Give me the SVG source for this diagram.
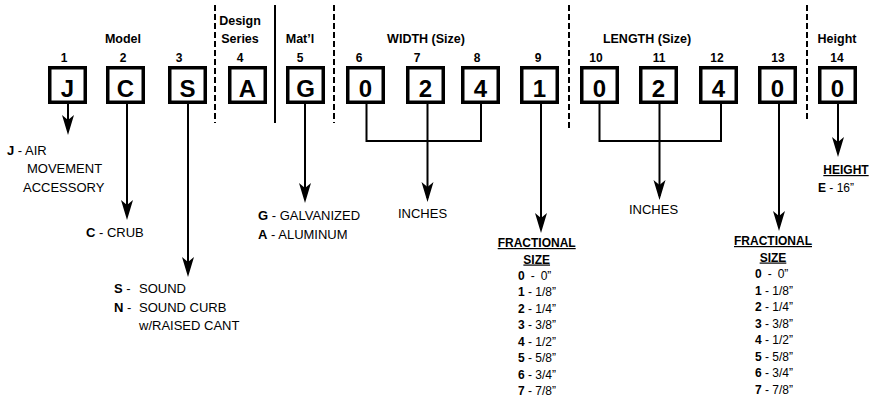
<svg xmlns="http://www.w3.org/2000/svg" width="872" height="398" viewBox="0 0 872 398">
<defs>
<style>
text{font-family:"Liberation Sans",Arial,sans-serif;fill:#000}
.hd{font-size:12.5px;font-weight:bold;text-anchor:middle}
.num{font-size:12px;font-weight:bold;text-anchor:middle}
.bx{fill:#fff;stroke:#000;stroke-width:3.5}
.ch{font-size:24px;font-weight:bold;text-anchor:middle}
.t{font-size:13px}
.s{font-size:12px}
.b{font-weight:bold}
.ln{fill:none;stroke:#000;stroke-width:2}
.dash{fill:none;stroke:#000;stroke-width:2;stroke-dasharray:6 3}
.ar{fill:none;stroke:#000;stroke-width:2;marker-end:url(#ah)}
</style>
<marker id="ah" markerUnits="userSpaceOnUse" markerWidth="24" markerHeight="16" viewBox="-18 -8 24 16" refX="0" refY="0" orient="auto">
<path d="M4,0 L-16,-6 L-11,0 L-16,6 Z" fill="#000"/>
</marker>
</defs>

<g id="headers">
<text class="hd" x="123" y="43">Model</text>
<text class="hd" x="240" y="25">Design</text>
<text class="hd" x="240" y="43">Series</text>
<text class="hd" x="300" y="43">Mat’l</text>
<text class="hd" x="426" y="43">WIDTH (Size)</text>
<text class="hd" x="647" y="43">LENGTH (Size)</text>
<text class="hd" x="837" y="43">Height</text>
</g>

<g id="dividers">
<line class="dash" x1="215" y1="5" x2="215" y2="123"/>
<line class="ln" x1="275" y1="5" x2="275" y2="123"/>
<line class="dash" x1="334" y1="5" x2="334" y2="123"/>
<line class="dash" x1="569" y1="5" x2="569" y2="128"/>
<line class="dash" x1="807" y1="5" x2="807" y2="122"/>
</g>

<g id="n1"><text class="num" x="64" y="62">1</text><rect class="bx" x="49.75" y="67.75" width="35.5" height="34.5"/><text class="ch" x="67.5" y="96.5">J</text></g>
<g id="n2"><text class="num" x="123" y="62">2</text><rect class="bx" x="107.75" y="67.75" width="35.5" height="34.5"/><text class="ch" x="125.5" y="96.5">C</text></g>
<g id="n3"><text class="num" x="179" y="62">3</text><rect class="bx" x="169.75" y="67.75" width="35.5" height="34.5"/><text class="ch" x="187.5" y="96.5">S</text></g>
<g id="n4"><text class="num" x="240" y="62">4</text><rect class="bx" x="229.75" y="67.75" width="35.5" height="34.5"/><text class="ch" x="247.5" y="96.5">A</text></g>
<g id="n5"><text class="num" x="300" y="62">5</text><rect class="bx" x="287.75" y="67.75" width="35.5" height="34.5"/><text class="ch" x="305.5" y="96.5">G</text></g>
<g id="n6"><text class="num" x="359" y="62">6</text><rect class="bx" x="347.75" y="67.75" width="35.5" height="34.5"/><text class="ch" x="365.5" y="96.5">0</text></g>
<g id="n7"><text class="num" x="417" y="62">7</text><rect class="bx" x="407.75" y="67.75" width="35.5" height="34.5"/><text class="ch" x="425.5" y="96.5">2</text></g>
<g id="n8"><text class="num" x="477" y="62">8</text><rect class="bx" x="462.75" y="67.75" width="35.5" height="34.5"/><text class="ch" x="480.5" y="96.5">4</text></g>
<g id="n9"><text class="num" x="538" y="62">9</text><rect class="bx" x="521.75" y="67.75" width="35.5" height="34.5"/><text class="ch" x="539.5" y="96.5">1</text></g>
<g id="n10"><text class="num" x="596" y="62">10</text><rect class="bx" x="581.75" y="67.75" width="35.5" height="34.5"/><text class="ch" x="599.5" y="96.5">0</text></g>
<g id="n11"><text class="num" x="659" y="62">11</text><rect class="bx" x="640.75" y="67.75" width="35.5" height="34.5"/><text class="ch" x="658.5" y="96.5">2</text></g>
<g id="n12"><text class="num" x="717" y="62">12</text><rect class="bx" x="700.75" y="67.75" width="35.5" height="34.5"/><text class="ch" x="718.5" y="96.5">4</text></g>
<g id="n13"><text class="num" x="778" y="62">13</text><rect class="bx" x="759.75" y="67.75" width="35.5" height="34.5"/><text class="ch" x="777.5" y="96.5">0</text></g>
<g id="n14"><text class="num" x="837" y="62">14</text><rect class="bx" x="819.75" y="67.75" width="35.5" height="34.5"/><text class="ch" x="837.5" y="96.5">0</text></g>

<g id="connectors">
<line class="ar" x1="68" y1="104" x2="68" y2="131"/>
<line class="ar" x1="127" y1="104" x2="127" y2="216"/>
<line class="ar" x1="188" y1="104" x2="188" y2="273"/>
<line class="ar" x1="305" y1="104" x2="305" y2="199"/>
<path class="ln" d="M366.5,104 V141 H481 V104 M427.5,104 V141"/>
<line class="ar" x1="427.5" y1="141" x2="427.5" y2="198"/>
<line class="ar" x1="541" y1="104" x2="541" y2="229"/>
<path class="ln" d="M599.5,104 V141 H721 V104 M659.5,104 V141"/>
<line class="ar" x1="659.5" y1="141" x2="659.5" y2="196"/>
<line class="ar" x1="779" y1="104" x2="779" y2="227"/>
<line class="ar" x1="838" y1="104" x2="838" y2="153"/>
</g>

<g id="lbl-j">
<text class="t" x="7" y="155"><tspan class="b">J</tspan> - AIR</text>
<text class="t" x="27" y="173">MOVEMENT</text>
<text class="t" x="23" y="192">ACCESSORY</text>
</g>
<g id="lbl-c"><text class="t" x="86" y="237"><tspan class="b">C</tspan> - CRUB</text></g>
<g id="lbl-s">
<text class="t" x="114" y="293"><tspan class="b">S</tspan> -</text>
<text class="t" x="139" y="293">SOUND</text>
<text class="t" x="114" y="312"><tspan class="b">N</tspan> -</text>
<text class="t" x="139" y="312">SOUND CURB</text>
<text class="t" x="139" y="330">w/RAISED CANT</text>
</g>
<g id="lbl-g">
<text class="t" x="258" y="220"><tspan class="b">G</tspan> - GALVANIZED</text>
<text class="t" x="258" y="238.5"><tspan class="b">A</tspan> - ALUMINUM</text>
</g>
<g id="lbl-inches-w"><text class="t" x="422.5" y="218" text-anchor="middle">INCHES</text></g>
<g id="lbl-inches-l"><text class="t" x="653.5" y="214" text-anchor="middle">INCHES</text></g>

<g id="lbl-frac-w">
<text class="s b" x="536.7" y="247" text-anchor="middle" text-decoration="underline">FRACTIONAL</text>
<text class="s b" x="536.7" y="263.5" text-anchor="middle" text-decoration="underline">SIZE</text>
<text class="s" x="518" y="279.5"><tspan class="b">0</tspan><tspan dx="6">-</tspan><tspan dx="6">0”</tspan></text>
<text class="s" x="518" y="296"><tspan class="b">1</tspan> - 1/8”</text>
<text class="s" x="518" y="312.5"><tspan class="b">2</tspan> - 1/4”</text>
<text class="s" x="518" y="329"><tspan class="b">3</tspan> - 3/8”</text>
<text class="s" x="518" y="345.5"><tspan class="b">4</tspan> - 1/2”</text>
<text class="s" x="518" y="362"><tspan class="b">5</tspan> - 5/8”</text>
<text class="s" x="518" y="378.5"><tspan class="b">6</tspan> - 3/4”</text>
<text class="s" x="518" y="395"><tspan class="b">7</tspan> - 7/8”</text>
</g>

<g id="lbl-frac-l">
<text class="s b" x="773" y="245" text-anchor="middle" text-decoration="underline">FRACTIONAL</text>
<text class="s b" x="773" y="261.5" text-anchor="middle" text-decoration="underline">SIZE</text>
<text class="s" x="755" y="278"><tspan class="b">0</tspan><tspan dx="6">-</tspan><tspan dx="6">0”</tspan></text>
<text class="s" x="755" y="294.5"><tspan class="b">1</tspan> - 1/8”</text>
<text class="s" x="755" y="311"><tspan class="b">2</tspan> - 1/4”</text>
<text class="s" x="755" y="327.5"><tspan class="b">3</tspan> - 3/8”</text>
<text class="s" x="755" y="344"><tspan class="b">4</tspan> - 1/2”</text>
<text class="s" x="755" y="360.5"><tspan class="b">5</tspan> - 5/8”</text>
<text class="s" x="755" y="377"><tspan class="b">6</tspan> - 3/4”</text>
<text class="s" x="755" y="393.5"><tspan class="b">7</tspan> - 7/8”</text>
</g>

<g id="lbl-height">
<text class="s b" x="846" y="174" text-anchor="middle" text-decoration="underline">HEIGHT</text>
<text class="s" x="818" y="191.5"><tspan class="b">E</tspan> - 16”</text>
</g>
</svg>
